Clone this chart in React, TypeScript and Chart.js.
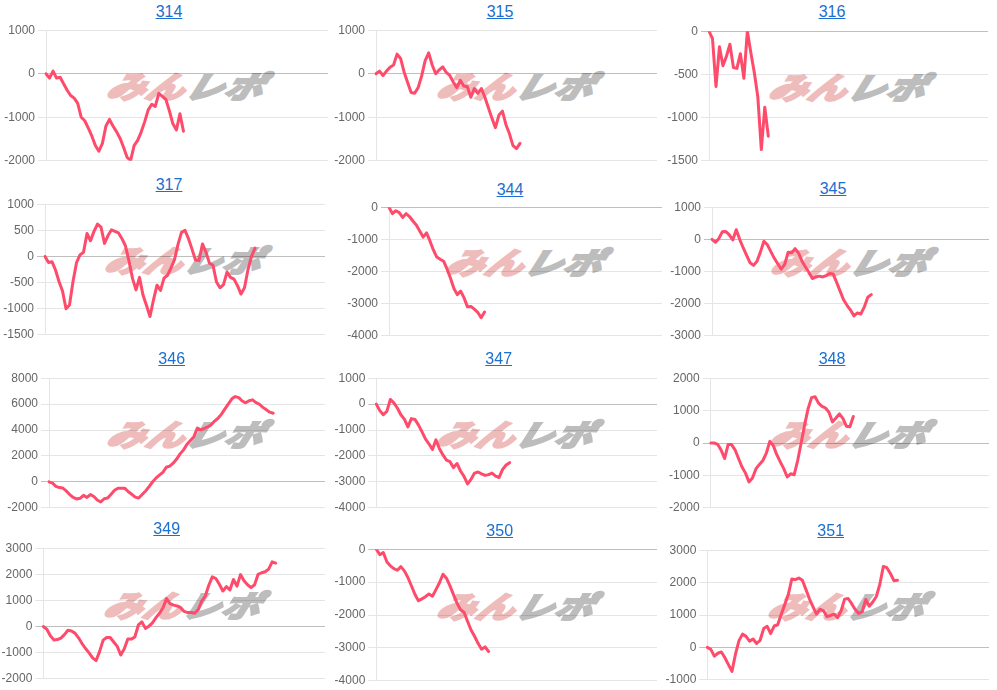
import React, { useEffect, useRef } from "react";
import { Chart, registerables } from "chart.js";
Chart.register(...registerables);

const titles = ["314", "315", "316", "317", "344", "345", "346", "347", "348", "349", "350", "351"];

const s314 = [0, -100, 60, -100, -80, -230, -380, -500, -560, -680, -1000, -1080, -1250, -1430, -1650, -1780, -1600, -1200, -1050, -1200, -1330, -1480, -1690, -1920, -1990, -1650, -1530, -1340, -1100, -830, -700, -750, -450, -520, -590, -850, -1150, -1290, -920, -1320];
const s315 = [0, 60, -40, 60, 150, 200, 450, 350, 40, -200, -430, -450, -320, -50, 300, 480, 200, 0, 90, 160, 30, -40, -190, -320, -150, -280, -300, -540, -340, -450, -340, -540, -780, -1020, -1240, -950, -860, -1170, -1380, -1650, -1720, -1600];
const s316 = [0, -85, -640, -180, -400, -290, -150, -420, -430, -260, -545, 0, -250, -480, -760, -1370, -880, -1215];
const s317 = [0, -115, -100, -260, -480, -660, -1000, -930, -480, -120, 30, 80, 440, 300, 480, 620, 560, 250, 400, 510, 480, 450, 340, 200, -90, -420, -640, -400, -740, -940, -1150, -830, -550, -650, -415, -360, -220, -60, 230, 460, 500, 340, 140, -70, -80, 240, 80, -130, -170, -490, -600, -540, -300, -400, -435, -560, -720, -600, -250, 0, 160];
const s344 = [0, -200, -110, -170, -320, -200, -290, -430, -555, -740, -930, -800, -1050, -1330, -1550, -1620, -1680, -1920, -2200, -2520, -2720, -2610, -2820, -3100, -3090, -3170, -3270, -3440, -3260];
const s345 = [0, -90, 30, 240, 245, 140, -20, 300, 0, -260, -500, -730, -810, -680, -390, -60, -170, -380, -590, -760, -930, -780, -400, -420, -290, -430, -680, -860, -1030, -1220, -1170, -1145, -1170, -1130, -1060, -1080, -1340, -1610, -1880, -2050, -2200, -2380, -2290, -2320, -2100, -1800, -1720];
const s346 = [0, -90, -350, -440, -480, -700, -980, -1200, -1320, -1270, -1040, -1200, -980, -1130, -1400, -1550, -1300, -1240, -950, -650, -490, -490, -500, -760, -960, -1180, -1250, -970, -700, -370, -10, 290, 520, 740, 1130, 1220, 1440, 1760, 2160, 2470, 2900, 3190, 3490, 4150, 4020, 4130, 4240, 4400, 4690, 4910, 5230, 5630, 6020, 6410, 6580, 6500, 6240, 6100, 6260, 6330, 6120, 5990, 5750, 5560, 5380, 5300];
const s347 = [0, -250, -410, -280, 180, 50, -150, -410, -580, -880, -560, -590, -800, -1060, -1340, -1530, -1750, -1380, -1720, -1960, -2160, -2220, -2450, -2290, -2580, -2790, -3080, -2900, -2660, -2620, -2690, -2750, -2720, -2660, -2780, -2830, -2520, -2350, -2260];
const s348 = [0, 0, -40, -220, -480, -50, -50, -210, -480, -740, -930, -1200, -1080, -800, -660, -540, -310, 50, -80, -360, -580, -790, -1050, -950, -980, -540, 0, 560, 1060, 1400, 1430, 1230, 1130, 1080, 950, 650, 770, 900, 760, 520, 500, 820];
const s349 = [0, -100, -350, -510, -500, -440, -310, -140, -170, -250, -430, -650, -840, -1010, -1200, -1300, -950, -520, -420, -420, -590, -760, -1090, -850, -480, -480, -400, 60, 180, -70, 15, 140, 340, 510, 720, 1070, 880, 820, 790, 725, 580, 535, 535, 510, 650, 975, 1170, 1580, 1905, 1840, 1620, 1360, 1530, 1400, 1800, 1550, 1990, 1750, 1600, 1490, 1600, 2000, 2060, 2100, 2200, 2480, 2430];
const s350 = [0, -170, -100, -380, -505, -590, -640, -530, -660, -860, -1110, -1370, -1565, -1510, -1445, -1360, -1430, -1230, -1020, -760, -880, -1115, -1380, -1640, -1840, -1915, -2190, -2455, -2645, -2860, -3040, -2970, -3110];
const s351 = [0, -60, -270, -180, -140, -320, -530, -740, -210, 210, 410, 340, 190, 260, 120, 220, 580, 650, 430, 660, 700, 1020, 1320, 1630, 2110, 2090, 2140, 2070, 1790, 1500, 1260, 1030, 1180, 1130, 950, 985, 1030, 920, 1130, 1490, 1510, 1350, 1170, 1050, 1100, 1480, 1270, 1400, 1570, 1950, 2500, 2460, 2280, 2060, 2070];

const series = [s314, s315, s316, s317, s344, s345, s346, s347, s348, s349, s350, s351];

const yMin = [-2000, -2000, -1500, -1500, -4000, -3000, -2000, -4000, -2000, -2000, -4000, -1000];
const yMax = [1000, 1000, 0, 1000, 0, 1000, 8000, 1000, 2000, 3000, 0, 3000];
const yStep = [1000, 1000, 500, 500, 1000, 1000, 2000, 1000, 1000, 1000, 1000, 1000];

const xCount = 81;
const xLabels = Array.from({ length: xCount }, (_, i) => String(i));

// layout (style only): plotLeft, plotRight, plotTop, plotBottom, titleX, titleY — panel-local px
const LAYOUT: number[][] = [
  [46, 328, 30, 161, 169, 12],
  [44, 325, 30, 161, 168, 12],
  [45, 324, 31, 161, 168, 12],
  [45, 325, 31.7, 162.3, 169, 12.7],
  [57, 330, 35, 163.3, 178, 18.3],
  [48, 325, 35, 163.3, 169, 17.3],
  [49, 325, 34.3, 164, 171.7, 15],
  [44.3, 325, 34, 163.3, 166.7, 15],
  [46.7, 325, 34, 164, 168, 15],
  [43.3, 325, 32.3, 163.3, 166.7, 13.3],
  [44.3, 325, 33.3, 165, 167.7, 15],
  [43.3, 325, 34.3, 164.3, 166.7, 15],
];

const LINE_COLOR = "#ff4b6b";
const PAD = 10.2;

function Panel({ idx }: { idx: number }) {
  const ref = useRef<HTMLCanvasElement | null>(null);
  const [pl, pr, pt, pb, tx, ty] = LAYOUT[idx];
  const col = idx % 3;
  const row = Math.floor(idx / 3);
  const ox = col * 332;
  const oy = row * 172;
  const canvasTop = pt - PAD;
  const canvasH = Math.round(pb - pt + 2 * PAD);
  const canvasW = Math.round(pr);

  useEffect(() => {
    if (!ref.current) return;
    const chart = new Chart(ref.current, {
      type: "line",
      data: {
        labels: xLabels,
        datasets: [
          {
            data: series[idx],
            borderColor: LINE_COLOR,
            backgroundColor: LINE_COLOR,
            borderWidth: 3,
            pointRadius: 0,
            fill: false,
            tension: 0,
            borderJoinStyle: "round",
            borderCapStyle: "round",
          },
        ],
      },
      options: {
        responsive: false,
        animation: false,
        events: [],
        layout: { padding: 0 },
        plugins: {
          legend: { display: false },
          tooltip: { enabled: false },
          title: { display: false },
        },
        scales: {
          x: { display: false, offset: false },
          y: {
            min: yMin[idx],
            max: yMax[idx],
            ticks: {
              stepSize: yStep[idx],
              color: "#666",
              font: { size: 12, family: "Arial, 'Liberation Sans', sans-serif" },
              callback: (v: any) => String(v),
            },
            grid: {
              color: (ctx: any) =>
                ctx.tick && ctx.tick.value === 0 ? "rgba(0,0,0,0.25)" : "rgba(0,0,0,0.1)",
            },
            border: { color: "rgba(0,0,0,0.1)" },
            afterFit: (s: any) => {
              s.width = pl;
            },
          },
        },
      },
    });
    return () => chart.destroy();
  }, [idx]);

  const wmX = (pl + pr) / 2;
  const wmY = pt + 0.43 * (pb - pt);

  return (
    <div style={{ position: "absolute", left: ox, top: oy, width: 332, height: 172 }}>
      <a
        href="#"
        style={{
          position: "absolute",
          left: tx - 50,
          width: 100,
          top: ty - 9,
          textAlign: "center",
          font: "16px Arial, 'Liberation Sans', sans-serif",
          lineHeight: "18px",
          color: "#1a6fcf",
          textDecoration: "underline",
        }}
      >
        {titles[idx]}
      </a>
      <div
        style={{
          position: "absolute",
          left: wmX - 90,
          top: wmY - 20,
          width: 180,
          height: 40,
          textAlign: "center",
          font: "italic bold 34px 'Noto Sans CJK JP', sans-serif",
          lineHeight: "40px",
          whiteSpace: "nowrap",
          transform: "scale(1.12, 0.88) skewX(-14deg)",
          letterSpacing: "1px",
        }}
      >
        <span style={{ color: "#efbcbc", WebkitTextStroke: "3px #efbcbc" } as any}>みん</span>
        <span style={{ color: "#bdbdbd", WebkitTextStroke: "3px #bdbdbd" } as any}>レポ</span>
      </div>
      <canvas
        ref={ref}
        width={canvasW}
        height={canvasH}
        style={{ position: "absolute", left: 0, top: canvasTop, width: canvasW, height: canvasH }}
      />
    </div>
  );
}

export default function App() {
  return (
    <div
      style={{
        position: "absolute",
        left: 0,
        top: 0,
        width: 997,
        height: 690,
        overflow: "hidden",
        background: "#fff",
      }}
    >
      {titles.map((_, i) => (
        <Panel key={i} idx={i} />
      ))}
    </div>
  );
}
